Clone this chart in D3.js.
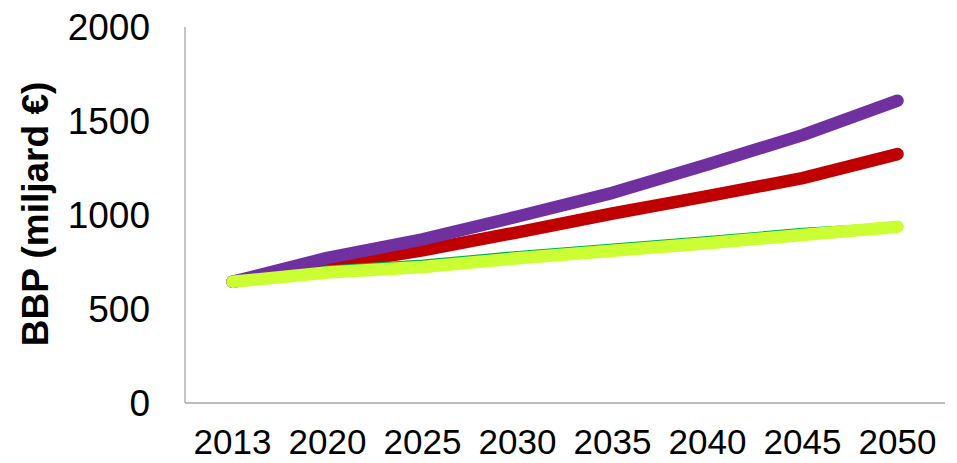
<!DOCTYPE html>
<html>
<head>
<meta charset="utf-8">
<script src="https://cdn.jsdelivr.net/npm/d3@7"></script>
<style>
  body { margin: 0; background: #fff; }
  text { font-family: "Liberation Sans", Arial, sans-serif; fill: #000; }
  .axis-line { stroke: #a6a6a6; stroke-width: 1.3; }
  .series { fill: none; stroke-linecap: round; stroke-linejoin: round; }
</style>
</head>
<body>
<div id="chart"></div>
<script>
const years = ['2013', '2020', '2025', '2030', '2035', '2040', '2045', '2050'];
const yTicks = [0, 500, 1000, 1500, 2000];

const redValues = [645, 730, 812, 908, 1008, 1100, 1196, 1324];
const purpleValues = [645, 772, 870, 992, 1118, 1268, 1425, 1608];
const greenValues = [645, 726, 757, 803, 843, 882, 926, 955];
const yellowValues = [645, 694, 723, 770, 810, 850, 894, 938];

const width = 957;
const height = 463;
const plotLeft = 185;
const plotRight = 945;
const plotTop = 27;
const plotBottom = 403;

let svg = d3.select('#chart').append('svg')
  .attr('width', width)
  .attr('height', height)

let x = d3.scalePoint()
  .domain(years)
  .range([plotLeft, plotRight])
  .padding(0.5)

let y = d3.scaleLinear()
  .domain([0, 2000])
  .range([plotBottom, plotTop])

// axes lines
svg.append('line')
  .classed('axis-line', true)
  .attr('x1', plotLeft).attr('x2', plotLeft)
  .attr('y1', y(2000)).attr('y2', plotBottom)

svg.append('line')
  .classed('axis-line', true)
  .attr('x1', plotLeft).attr('x2', plotRight)
  .attr('y1', plotBottom).attr('y2', plotBottom)

svg.selectAll('.y-label').data(yTicks).enter().append('text')
  .classed('y-label', true)
  .attr('x', 150)
  .attr('y', d => y(d))
  .attr('dy', '0.36em')
  .attr('text-anchor', 'end')
  .style('font-size', '37px')
  .text(d => d)

svg.selectAll('.x-label').data(years).enter().append('text')
  .classed('x-label', true)
  .attr('x', d => x(d))
  .attr('y', 454)
  .attr('text-anchor', 'middle')
  .style('font-size', '35px')
  .text(d => d)

svg.append('text')
  .attr('transform', 'translate(48, 214) rotate(-90)')
  .attr('text-anchor', 'middle')
  .style('font-size', '37px')
  .style('font-weight', 'bold')
  .text('BBP (miljard €)')

let line = d3.line()
  .x((d, i) => x(years[i]))
  .y(d => y(d))

let series = [
  {values: redValues, color: '#c00000', w: 12.5},
  {values: purpleValues, color: '#7030a0', w: 12.5},
  {values: greenValues, color: '#00b050', w: 2.2},
  {values: yellowValues, color: '#ccff33', w: 12.5}
]

svg.selectAll('.series').data(series).enter().append('path')
  .classed('series', true)
  .attr('d', d => line(d.values))
  .attr('stroke', d => d.color)
  .attr('stroke-width', d => d.w)
</script>
</body>
</html>
